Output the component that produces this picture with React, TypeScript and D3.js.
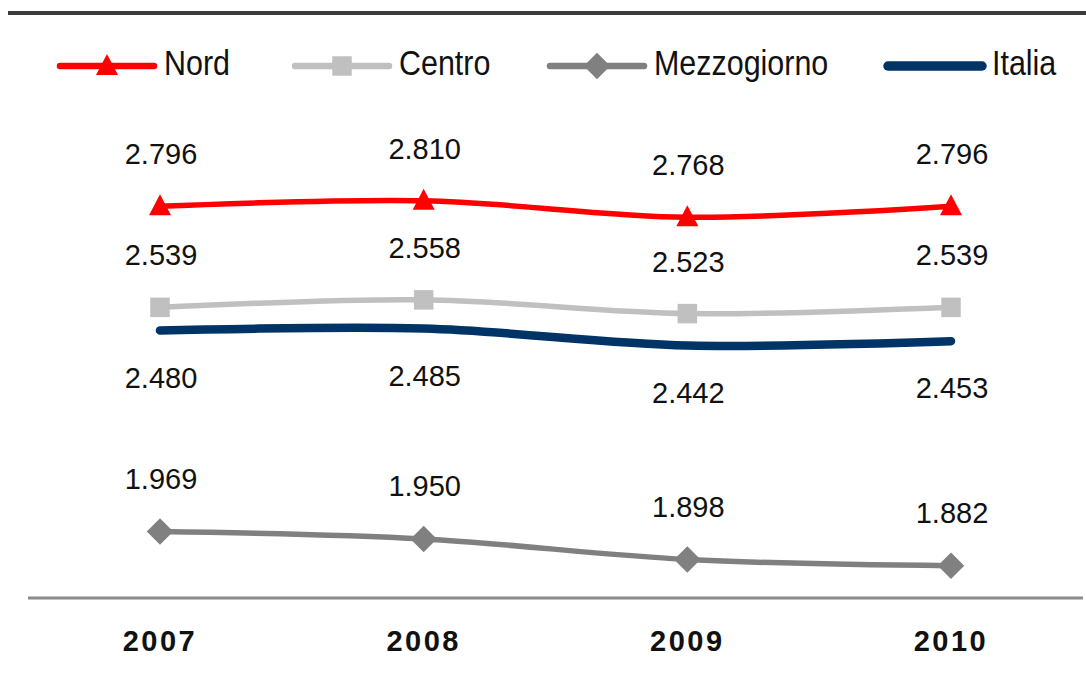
import React, { useEffect, useRef } from 'react';
import * as d3 from 'd3';

const years = ['2007', '2008', '2009', '2010'];
const nord = [2.796, 2.81, 2.768, 2.796];
const centro = [2.539, 2.558, 2.523, 2.539];
const mezzogiorno = [1.969, 1.95, 1.898, 1.882];
const italia = [2.48, 2.485, 2.442, 2.453];

const seriesNames = ['Nord', 'Centro', 'Mezzogiorno', 'Italia'];

const W = 1086;
const H = 683;
const FONT = '"Liberation Sans", Arial, sans-serif';

const fmt = (v: number) => v.toFixed(3);

// taller-than-equilateral triangle, like the office marker
const trianglePath = 'M0,-12L11,9L-11,9Z';

const App = () => {
  const ref = useRef<SVGSVGElement>(null);

  useEffect(() => {
    const svg = d3.select(ref.current);
    svg.selectAll('*').remove();

    const x = d3.scalePoint<string>().domain(years).range([160, 951]);
    const y = d3.scaleLinear().domain([1.5, 3.0]).range([716, 126]);

    const series = [
      { name: seriesNames[0], values: nord, color: '#ff0000', width: 5.5, marker: 'triangle', labelDy: -52 },
      { name: seriesNames[1], values: centro, color: '#c0c0c0', width: 5.5, marker: 'square', labelDy: -52 },
      { name: seriesNames[2], values: mezzogiorno, color: '#808080', width: 5.5, marker: 'diamond', labelDy: -53 },
      { name: seriesNames[3], values: italia, color: '#003366', width: 8.5, marker: 'none', labelDy: 47 },
    ];

    // frame lines
    svg.append('line')
      .attr('x1', 8).attr('x2', W)
      .attr('y1', 13).attr('y2', 13)
      .attr('stroke', '#3c3c3c').attr('stroke-width', 4);

    svg.append('line')
      .attr('x1', 28).attr('x2', 1083)
      .attr('y1', 598).attr('y2', 598)
      .attr('stroke', '#8c8c8c').attr('stroke-width', 3);

    const symbolFor = (m: string) => {
      if (m === 'triangle') return trianglePath;
      if (m === 'square') return d3.symbol().type(d3.symbolSquare).size(380)();
      if (m === 'diamond') return d3.symbol().type(d3.symbolSquare).size(350)();
      return null;
    };

    const line = d3.line<number>()
      .x((_, i) => x(years[i]) as number)
      .y(d => y(d))
      .curve(d3.curveCatmullRom.alpha(0.5));

    // draw lines in an order so Italia sits under the Centro markers
    const drawOrder = [3, 2, 1, 0];
    drawOrder.forEach(si => {
      const s = series[si];
      const g = svg.append('g');
      g.append('path')
        .attr('d', line(s.values))
        .attr('fill', 'none')
        .attr('stroke', s.color)
        .attr('stroke-width', s.width)
        .attr('stroke-linecap', 'round');

      const sym = symbolFor(s.marker);
      if (sym) {
        g.selectAll('path.mk')
          .data(s.values)
          .enter()
          .append('path')
          .attr('class', 'mk')
          .attr('d', sym)
          .attr('fill', s.color)
          .attr('transform', (d, i) => {
            const px = x(years[i]) as number;
            const py = y(d);
            if (s.marker === 'diamond') return `translate(${px},${py}) rotate(45)`;
            return `translate(${px},${py})`;
          });
      }

      g.selectAll('text')
        .data(s.values)
        .enter()
        .append('text')
        .attr('x', (_, i) => (x(years[i]) as number) + 1)
        .attr('y', d => y(d) + s.labelDy)
        .attr('dy', '0.35em')
        .attr('text-anchor', 'middle')
        .style('font-family', FONT)
        .style('font-size', '29px')
        .style('fill', '#111')
        .text(d => fmt(d));
    });

    // x axis labels
    svg.selectAll('text.year')
      .data(years)
      .enter()
      .append('text')
      .attr('class', 'year')
      .attr('x', d => (x(d) as number))
      .attr('y', 641)
      .attr('dy', '0.35em')
      .attr('text-anchor', 'middle')
      .style('font-family', FONT)
      .style('font-size', '29px')
      .style('font-weight', 'bold')
      .style('letter-spacing', '2.5px')
      .style('fill', '#111')
      .text(d => d);

    // legend
    const legendX = [57, 292, 547, 885];
    const legendLen = 100;
    const legendY = 66;
    const legend = svg.append('g');
    series.forEach((s, i) => {
      const x0 = legendX[i];
      const x1 = x0 + legendLen;
      const lg = legend.append('g');
      lg.append('line')
        .attr('x1', x0 + 3).attr('x2', x1 - 3)
        .attr('y1', legendY).attr('y2', legendY)
        .attr('stroke', s.color)
        .attr('stroke-width', s.width + 1)
        .attr('stroke-linecap', 'round');
      const sym = symbolFor(s.marker);
      if (sym) {
        const cx = (x0 + x1) / 2;
        lg.append('path')
          .attr('d', sym)
          .attr('fill', s.color)
          .attr('transform', s.marker === 'diamond'
            ? `translate(${cx},${legendY}) rotate(45)`
            : `translate(${cx},${legendY})`);
      }
      lg.append('text')
        .attr('transform', `translate(${x1 + 7},75) scale(0.87,1)`)
        .style('font-family', FONT)
        .style('font-size', '35px')
        .style('fill', '#111')
        .text(s.name);
    });
  }, []);

  return (
    <svg
      ref={ref}
      width={W}
      height={H}
      style={{ position: 'absolute', left: 0, top: 0, background: '#fff' }}
    />
  );
};

export default App;
